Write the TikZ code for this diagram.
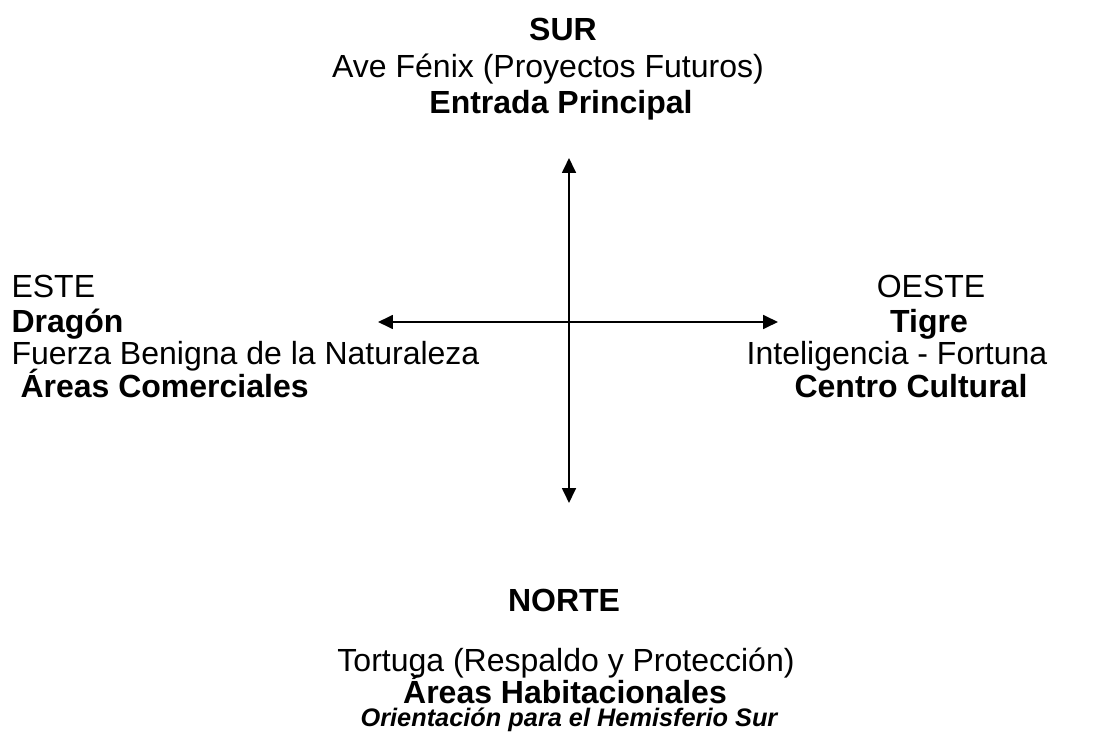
\documentclass[tikz,border=0pt]{standalone}
\usepackage{fontspec}
\setmainfont{Liberation Sans}
\usetikzlibrary{arrows.meta}

\begin{document}
\begin{tikzpicture}[x=0.375pt, y=-0.375pt, font=\fontsize{12}{14}\selectfont,
    every node/.style={inner sep=0pt, anchor=base},
    axis/.style={line width=0.75pt, {Triangle[length=5.6pt,width=5.2pt]}-{Triangle[length=5.6pt,width=5.2pt]}}]
        \useasboundingbox (0,0) rectangle (1101,740);
        %top
        \node (sur) at (563,41) {\bfseries SUR};
        \node (ave) at (548,78) {Ave Fénix (Proyectos Futuros)};
        \node (entrada) at (561,114) {\bfseries Entrada Principal};
        %left
        \node[anchor=base west] (este) at (11,298) {ESTE};
        \node[anchor=base west] (dragon) at (11,333) {\bfseries Dragón};
        \node[anchor=base west] (fuerza) at (11,365) {Fuerza Benigna de la Naturaleza};
        \node[anchor=base west] (comerc) at (20,398) {\bfseries Áreas Comerciales};
        %right
        \node (oeste) at (931,298) {OESTE};
        \node (tigre) at (929,333) {\bfseries Tigre};
        \node (intel) at (897,365) {Inteligencia - Fortuna};
        \node (centro) at (911,398) {\bfseries Centro Cultural};
        %bottom
        \node (norte) at (564,611) {\bfseries NORTE};
        \node (tortuga) at (566,671) {Tortuga (Respaldo y Protección)};
        \node (habit) at (565,703) {\bfseries Áreas Habitacionales};
        \node (orient) at (569,726) {\fontsize{9.5}{11}\selectfont\bfseries\itshape Orientación para el Hemisferio Sur};
        %axes
        \coordinate (n) at (569,158);
        \coordinate (s) at (569,503);
        \coordinate (w) at (378,322);
        \coordinate (e) at (778,322);
        \draw[axis] (n) -- (s);
        \draw[axis] (w) -- (e);
\end{tikzpicture}
\end{document}
